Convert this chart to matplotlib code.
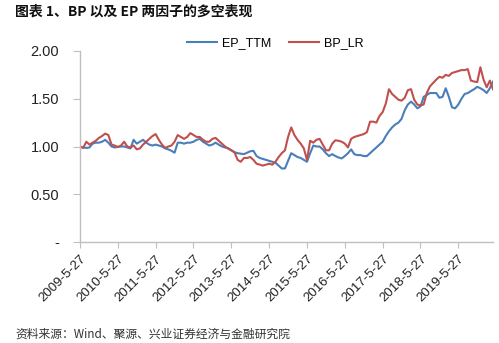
import numpy as np
import matplotlib
matplotlib.use("Agg")
import matplotlib.pyplot as plt

plt.rcParams['font.family'] = ['Liberation Sans', 'Noto Sans CJK SC', 'DejaVu Sans']

# Long-short net value of the two factors, monthly observations from 2009-05-27
ep_ttm = [
    1.00, 0.99, 0.985, 0.99, 1.03, 1.04, 1.04, 1.05, 1.07, 1.04,
    1.00, 0.99, 0.995, 1.00, 1.00, 0.99, 0.98, 1.07, 1.03, 1.05,
    1.07, 1.04, 1.02, 1.01, 1.02, 1.01, 1.00, 0.98, 0.97, 0.955,
    0.935, 1.04, 1.04, 1.03, 1.04, 1.04, 1.05, 1.07, 1.08, 1.05,
    1.03, 1.01, 1.02, 1.04, 1.02, 1.00, 0.99, 0.98, 0.96, 0.94,
    0.93, 0.925, 0.92, 0.935, 0.95, 0.955, 0.90, 0.88, 0.87, 0.86,
    0.85, 0.84, 0.83, 0.80, 0.77, 0.77, 0.85, 0.93, 0.91, 0.89,
    0.88, 0.86, 0.84, 0.93, 1.01, 1.00, 1.00, 0.97, 0.93, 0.90,
    0.92, 0.90, 0.885, 0.875, 0.90, 0.93, 0.97, 0.92, 0.91, 0.91,
    0.90, 0.90, 0.93, 0.96, 0.99, 1.02, 1.05, 1.11, 1.16, 1.20,
    1.23, 1.25, 1.29, 1.38, 1.44, 1.47, 1.44, 1.40, 1.42, 1.52,
    1.54, 1.56, 1.56, 1.56, 1.51, 1.52, 1.61, 1.52, 1.41, 1.40,
    1.44, 1.50, 1.55, 1.56, 1.58, 1.60, 1.625, 1.61, 1.59, 1.56,
    1.61, 1.68,
]
bp_lr = [
    1.00, 0.985, 1.05, 1.02, 1.04, 1.06, 1.09, 1.11, 1.135, 1.12,
    1.02, 1.01, 0.995, 1.01, 1.05, 1.00, 0.99, 1.01, 0.97, 0.98,
    1.02, 1.05, 1.08, 1.11, 1.13, 1.07, 1.02, 0.985, 1.00, 1.01,
    1.05, 1.12, 1.10, 1.08, 1.10, 1.14, 1.12, 1.10, 1.10, 1.07,
    1.05, 1.05, 1.08, 1.09, 1.06, 1.03, 1.00, 0.98, 0.96, 0.94,
    0.86, 0.84, 0.88, 0.88, 0.89, 0.86, 0.82, 0.81, 0.80, 0.81,
    0.82, 0.81, 0.84, 0.89, 0.93, 0.96, 1.10, 1.20, 1.12, 1.07,
    1.03, 0.98, 0.86, 1.06, 1.04, 1.07, 1.08, 1.02, 0.96, 0.96,
    1.03, 1.065, 1.06, 1.05, 1.03, 0.99, 1.08, 1.10, 1.11, 1.12,
    1.13, 1.15, 1.26, 1.26, 1.25, 1.32, 1.36, 1.45, 1.60, 1.55,
    1.52, 1.49, 1.48, 1.51, 1.59, 1.60, 1.49, 1.44, 1.43, 1.44,
    1.56, 1.63, 1.665, 1.70, 1.73, 1.72, 1.75, 1.74, 1.77, 1.78,
    1.79, 1.80, 1.80, 1.81, 1.69, 1.68, 1.675, 1.83, 1.70, 1.62,
    1.69, 1.60,
]
date_labels = [
    "2009-5-27", "2010-5-27", "2011-5-27", "2012-5-27", "2013-5-27",
    "2014-5-27", "2015-5-27", "2016-5-27", "2017-5-27", "2018-5-27",
    "2019-5-27",
]
y_ticks = [0.0, 0.5, 1.0, 1.5, 2.0]
y_labels = ["-", "0.50", "1.00", "1.50", "2.00"]

BLUE = "#4a7ebb"
RED = "#c0504d"
GRAY = "#bfbfbf"

fig = plt.figure(figsize=(4.99, 3.43), dpi=100)
ax = fig.add_axes([80 / 499, 1 - 242 / 343, (493 - 80) / 499, (242 - 51) / 343])

x = np.arange(len(ep_ttm))
l1, = ax.plot(x, ep_ttm, color=BLUE, lw=1.5, label="EP_TTM")
l2, = ax.plot(x, bp_lr, color=RED, lw=1.5, label="BP_LR")

ax.set_xlim(0, len(ep_ttm) - 1)
ax.set_ylim(0, 2.0)
ax.set_yticks(y_ticks)
ax.set_yticklabels(y_labels, fontsize=10.5, color="#222222")
ax.set_xticks(np.arange(len(date_labels)) * 12)
ax.set_xticklabels(date_labels, fontsize=9.5, rotation=45, ha="right",
                   va="top", rotation_mode="anchor", color="#222222")

for side in ("top", "right"):
    ax.spines[side].set_visible(False)
for side in ("left", "bottom"):
    ax.spines[side].set_color(GRAY)
    ax.spines[side].set_linewidth(1.0)
ax.tick_params(axis="y", length=5, color=GRAY, pad=10)
ax.tick_params(axis="x", length=4, color=GRAY, pad=4)

fig.legend(handles=[l1, l2], loc="center", bbox_to_anchor=(275 / 499, 1 - 43 / 343),
           ncol=2, frameon=False, fontsize=9, handlelength=2.4,
           columnspacing=1.4, handletextpad=0.4)

fig.text(15 / 499, 1 - 12 / 343, "图表 1、BP 以及 EP 两因子的多空表现",
         family=["Noto Sans CJK SC", "DejaVu Sans"], fontweight="bold",
         fontsize=10, va="center", ha="left", color="#111111")
fig.text(15 / 499, 1 - 334 / 343, "资料来源：Wind、聚源、兴业证券经济与金融研究院",
         family=["Noto Sans CJK SC", "DejaVu Sans"], fontsize=8.5,
         va="center", ha="left", color="#333333")

fig.savefig("out.png", dpi=100)
